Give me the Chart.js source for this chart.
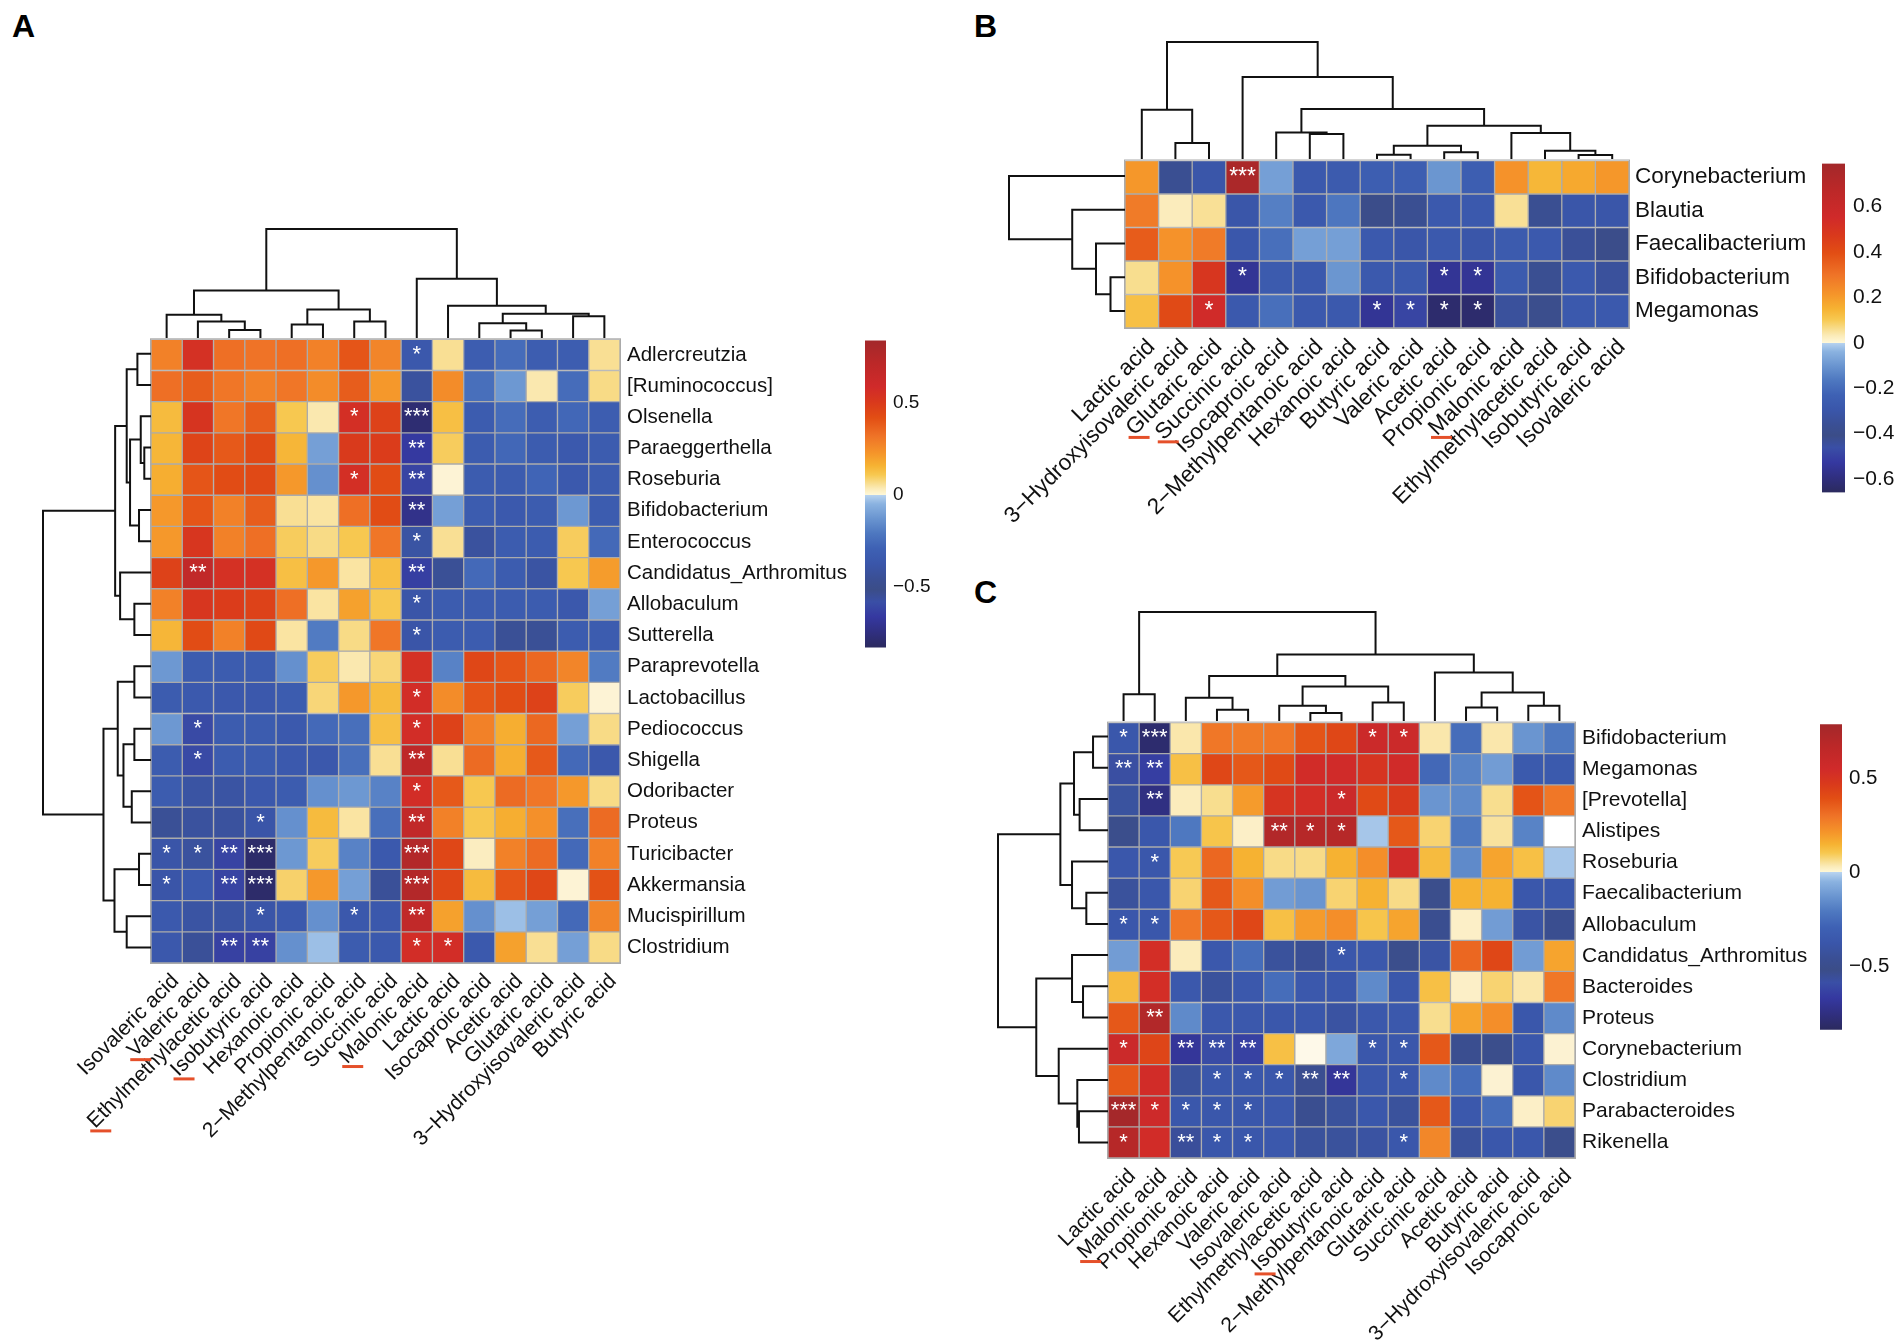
<!DOCTYPE html>
<html><head><meta charset="utf-8">
<script src="https://cdn.jsdelivr.net/npm/chart.js@4.4.1/dist/chart.umd.min.js"></script>
<style>
html,body{margin:0;padding:0;background:#fff;}
#page{position:relative;width:1902px;height:1341px;overflow:hidden;background:#fff;}
canvas{position:absolute;}
.letter{position:absolute;font:bold 32px "Liberation Sans",Arial,sans-serif;color:#000;line-height:32px;}
</style></head><body><div id="page">
<div class="letter" style="left:12px;top:10px">A</div>
<div class="letter" style="left:974px;top:10px">B</div>
<div class="letter" style="left:974px;top:576px">C</div>
</div>
<script>
// ---------------- DATA ----------------
const colsA = ['Isovaleric acid','Valeric acid','Ethylmethylacetic acid','Isobutyric acid','Hexanoic acid','Propionic acid','2\u2212Methylpentanoic acid','Succinic acid','Malonic acid','Lactic acid','Isocaproic acid','Acetic acid','Glutaric acid','3\u2212Hydroxyisovaleric acid','Butyric acid'];
const rowsA = ['Adlercreutzia','[Ruminococcus]','Olsenella','Paraeggerthella','Roseburia','Bifidobacterium','Enterococcus','Candidatus_Arthromitus','Allobaculum','Sutterella','Paraprevotella','Lactobacillus','Pediococcus','Shigella','Odoribacter','Proteus','Turicibacter','Akkermansia','Mucispirillum','Clostridium'];
const valsA = [
 [0.28,0.55,0.33,0.32,0.33,0.28,0.40,0.27,-0.36,0.06,-0.32,-0.25,-0.32,-0.32,0.06],
 [0.33,0.38,0.31,0.28,0.31,0.25,0.38,0.22,-0.42,0.25,-0.24,-0.12,0.04,-0.25,0.07],
 [0.14,0.53,0.31,0.38,0.11,0.04,0.56,0.47,-0.78,0.13,-0.33,-0.25,-0.32,-0.27,-0.32],
 [0.15,0.46,0.39,0.44,0.15,-0.10,0.50,0.49,-0.66,0.10,-0.33,-0.27,-0.33,-0.35,-0.33],
 [0.17,0.40,0.43,0.44,0.22,-0.14,0.56,0.43,-0.62,0.02,-0.33,-0.33,-0.28,-0.35,-0.33],
 [0.22,0.40,0.28,0.38,0.06,0.05,0.33,0.43,-0.72,-0.10,-0.33,-0.35,-0.33,-0.12,-0.33],
 [0.22,0.52,0.28,0.33,0.10,0.07,0.11,0.31,-0.40,0.06,-0.42,-0.33,-0.33,0.10,-0.26],
 [0.47,0.68,0.55,0.55,0.13,0.22,0.05,0.13,-0.64,-0.45,-0.26,-0.33,-0.40,0.11,0.21],
 [0.28,0.52,0.49,0.47,0.33,0.05,0.20,0.11,-0.38,-0.33,-0.33,-0.33,-0.33,-0.36,-0.10],
 [0.15,0.43,0.28,0.44,0.05,-0.20,0.07,0.31,-0.38,-0.33,-0.33,-0.45,-0.45,-0.33,-0.33],
 [-0.12,-0.33,-0.33,-0.33,-0.14,0.10,0.04,0.08,0.55,-0.18,0.45,0.40,0.35,0.27,-0.20],
 [-0.33,-0.35,-0.36,-0.36,-0.33,0.08,0.22,0.14,0.57,0.25,0.40,0.43,0.47,0.10,0.02],
 [-0.12,-0.60,-0.33,-0.33,-0.35,-0.26,-0.24,0.13,0.57,0.47,0.28,0.17,0.35,-0.10,0.07],
 [-0.33,-0.60,-0.33,-0.33,-0.35,-0.36,-0.24,0.06,0.70,0.06,0.34,0.17,0.39,-0.26,-0.36],
 [-0.33,-0.40,-0.40,-0.36,-0.33,-0.14,-0.12,-0.18,0.57,0.39,0.11,0.34,0.31,0.22,0.07],
 [-0.45,-0.42,-0.42,-0.38,-0.14,0.14,0.05,-0.24,0.68,0.28,0.11,0.17,0.24,-0.24,0.34],
 [-0.38,-0.42,-0.62,-0.80,-0.12,0.10,-0.18,-0.35,0.76,0.45,0.03,0.28,0.34,-0.26,0.28],
 [-0.38,-0.35,-0.62,-0.80,0.09,0.22,-0.10,-0.44,0.76,0.45,0.14,0.40,0.45,0.02,0.41],
 [-0.35,-0.40,-0.40,-0.38,-0.35,-0.14,-0.36,-0.36,0.68,0.20,-0.14,-0.03,-0.10,-0.26,0.27],
 [-0.36,-0.44,-0.63,-0.63,-0.14,-0.03,-0.33,-0.35,0.57,0.57,-0.35,0.20,0.06,-0.10,0.07]
];
const starsA = ['000000001000000','000000000000000','000000103000000','000000002000000','000000102000000','000000002000000','000000001000000','020000002000000','000000001000000','000000001000000','000000000000000','000000001000000','010000001000000','010000002000000','000000001000000','000100002000000','112300003000000','102300003000000','000100102000000','002200001100000'];
const markedA = ['Valeric acid','Ethylmethylacetic acid','Isobutyric acid','Malonic acid'];
const colTreeA = [[-3,-4,0.074],[-2,1,0.151],[-1,2,0.213],[-5,-6,0.123],[-7,-8,0.151],[4,5,0.262],[3,6,0.435],[-12,-13,0.068],[-11,8,0.136],[-14,-15,0.2],[9,10,0.222],[-10,11,0.296],[-9,12,0.543],[7,13,1.0]];
const rowTreeA = [[-1,-2,0.126],[-4,-5,0.062],[-3,2,0.095],[-6,-7,0.111],[3,4,0.194],[1,5,0.225],[-9,-10,0.154],[-8,7,0.286],[6,8,0.332],[-11,-12,0.154],[-13,-14,0.154],[-15,-16,0.178],[11,12,0.255],[10,13,0.308],[-17,-18,0.111],[-19,-20,0.225],[15,16,0.338],[14,17,0.44],[9,18,1.0]];
const rangeA = [-0.83, 0.84];
const legendTicksA = [-0.5, 0, 0.5];

const colsB = ['Lactic acid','3\u2212Hydroxyisovaleric acid','Glutaric acid','Succinic acid','Isocaproic acid','2\u2212Methylpentanoic acid','Hexanoic acid','Butyric acid','Valeric acid','Acetic acid','Propionic acid','Malonic acid','Ethylmethylacetic acid','Isobutyric acid','Isovaleric acid'];
const rowsB = ['Corynebacterium','Blautia','Faecalibacterium','Bifidobacterium','Megamonas'];
const valsB = [
 [0.21,-0.37,-0.30,0.75,-0.08,-0.28,-0.27,-0.25,-0.25,-0.10,-0.25,0.22,0.14,0.17,0.21],
 [0.28,0.03,0.055,-0.30,-0.15,-0.28,-0.17,-0.40,-0.37,-0.28,-0.28,0.055,-0.37,-0.30,-0.30],
 [0.36,0.22,0.28,-0.29,-0.19,-0.08,-0.08,-0.28,-0.30,-0.28,-0.30,-0.27,-0.28,-0.35,-0.40],
 [0.06,0.22,0.49,-0.55,-0.27,-0.28,-0.10,-0.28,-0.28,-0.55,-0.55,-0.27,-0.37,-0.28,-0.34],
 [0.12,0.41,0.55,-0.28,-0.19,-0.28,-0.28,-0.55,-0.49,-0.63,-0.63,-0.34,-0.39,-0.28,-0.28]
];
const starsB = ['000300000000000','000000000000000','000000000000000','000100000110000','001000011110000'];
const markedB = ['Glutaric acid','Succinic acid','Malonic acid'];
const colTreeB = [[-2,-3,0.137],[-1,1,0.422],[-6,-7,0.214],[-5,3,0.226],[-8,-9,0.037],[-10,-11,0.057],[5,6,0.114],[-14,-15,0.034],[-13,8,0.071],[-12,9,0.222],[7,10,0.285],[4,11,0.427],[-4,12,0.70],[2,13,1.0]];
const rowTreeB = [[-4,-5,0.125],[-3,1,0.25],[-2,2,0.455],[-1,3,1.0]];
const rangeB = [-0.66, 0.79];
const legendTicksB = [-0.6,-0.4,-0.2,0,0.2,0.4,0.6];

const colsC = ['Lactic acid','Malonic acid','Propionic acid','Hexanoic acid','Valeric acid','Isovaleric acid','Ethylmethylacetic acid','Isobutyric acid','2\u2212Methylpentanoic acid','Glutaric acid','Succinic acid','Acetic acid','Butyric acid','3\u2212Hydroxyisovaleric acid','Isocaproic acid'];
const rowsC = ['Bifidobacterium','Megamonas','[Prevotella]','Alistipes','Roseburia','Faecalibacterium','Allobaculum','Candidatus_Arthromitus','Bacteroides','Proteus','Corynebacterium','Clostridium','Parabacteroides','Rikenella'];
const valsC = [
 [-0.37,-0.80,0.04,0.29,0.28,0.29,0.38,0.42,0.58,0.58,0.04,-0.25,0.04,-0.13,-0.21],
 [-0.58,-0.65,0.12,0.42,0.37,0.41,0.54,0.55,0.50,0.55,-0.27,-0.18,-0.11,-0.35,-0.35],
 [-0.42,-0.75,0.03,0.06,0.20,0.50,0.53,0.58,0.41,0.47,-0.13,-0.16,0.06,0.38,0.29],
 [-0.50,-0.37,-0.21,0.11,0.025,0.72,0.70,0.70,-0.02,0.37,0.08,-0.21,0.05,-0.18,0.0],
 [-0.37,-0.37,0.10,0.33,0.15,0.065,0.065,0.15,0.23,0.55,0.13,-0.16,0.18,0.12,-0.02],
 [-0.43,-0.37,0.08,0.37,0.23,-0.11,-0.13,0.08,0.15,0.065,-0.50,0.15,0.15,-0.37,-0.37],
 [-0.37,-0.37,0.29,0.37,0.42,0.12,0.20,0.23,0.11,0.18,-0.48,0.025,-0.11,-0.40,-0.48],
 [-0.11,0.53,0.03,-0.36,-0.25,-0.43,-0.46,-0.37,-0.36,-0.50,-0.40,0.33,0.42,-0.11,0.18],
 [0.13,0.53,-0.36,-0.43,-0.36,-0.25,-0.36,-0.37,-0.16,-0.37,0.12,0.025,0.08,0.04,0.29],
 [0.37,0.72,-0.16,-0.36,-0.36,-0.37,-0.37,-0.41,-0.36,-0.36,0.06,0.18,0.23,-0.37,-0.16],
 [0.58,0.43,-0.69,-0.60,-0.64,0.12,0.01,-0.08,-0.37,-0.37,0.37,-0.48,-0.50,-0.37,0.02],
 [0.37,0.54,-0.43,-0.37,-0.37,-0.37,-0.54,-0.69,-0.37,-0.37,-0.16,-0.25,0.02,-0.37,-0.16],
 [0.78,0.57,-0.37,-0.37,-0.37,-0.36,-0.48,-0.43,-0.37,-0.43,0.37,-0.36,-0.25,0.025,0.08],
 [0.70,0.54,-0.56,-0.37,-0.37,-0.36,-0.43,-0.43,-0.41,-0.37,0.25,-0.43,-0.37,-0.37,-0.50]
];
const starsC = ['130000001100000','220000000000000','020000010000000','000002110000000','010000000000000','000000000000000','110000000000000','000000010000000','000000000000000','020000000000000','102220001100000','000111220100000','311110000000000','102110000100000'];
const markedC = ['Malonic acid','Isobutyric acid'];
const colTreeC = [[-1,-2,0.246],[-4,-5,0.103],[-3,2,0.213],[-7,-8,0.073],[-6,4,0.14],[-9,-10,0.17],[5,6,0.316],[3,7,0.413],[-12,-13,0.125],[-14,-15,0.14],[9,10,0.261],[-11,11,0.444],[8,12,0.611],[1,13,1.0]];
const rowTreeC = [[-1,-2,0.136],[-3,-4,0.258],[1,2,0.309],[-6,-7,0.197],[-5,4,0.327],[3,5,0.433],[-9,-10,0.227],[-8,7,0.327],[-13,-14,0.264],[-12,9,0.279],[-11,10,0.448],[8,11,0.652],[6,12,1.0]];
const rangeC = [-0.84, 0.79];
const legendTicksC = [-0.5, 0, 0.5];

// ---------------- STYLE ----------------
const POS = [[0,'#FFFFFF'],[0.04,'#FBEBB8'],[0.08,'#F8DC8A'],[0.13,'#F7C850'],[0.19,'#F6B232'],[0.27,'#F5952A'],[0.38,'#EF7327'],[0.5,'#E24E14'],[0.6,'#D9391C'],[0.7,'#D02A2A'],[0.85,'#BC2828'],[1,'#A3282A']];
const NEG = [[0,'#B8D3EF'],[0.06,'#8AB2E0'],[0.16,'#6893CF'],[0.25,'#4E78C0'],[0.35,'#3E61B4'],[0.45,'#3A56AA'],[0.55,'#3A4F94'],[0.62,'#3B4D88'],[0.7,'#3A4FA6'],[0.8,'#3538A0'],[0.9,'#302F80'],[1,'#2B2A5E']];
const FONT = '"Liberation Sans", Arial, Helvetica, sans-serif';
const TXT = '#111111';

Chart.defaults.animation = false;
Chart.defaults.events = [];
Chart.defaults.font.family = FONT;
Chart.defaults.color = TXT;
Chart.defaults.plugins.legend.display = false;
Chart.defaults.plugins.tooltip.enabled = false;

function hex(c){ return [1,3,5].map(i => parseInt(c.substr(i,2),16)); }
function mix(stops, t){
  t = Math.max(0, Math.min(1, t));
  for (let i = 1; i < stops.length; i++) {
    if (t <= stops[i][0]) {
      const t0 = stops[i-1][0], t1 = stops[i][0];
      const a = hex(stops[i-1][1]), b = hex(stops[i][1]);
      const f = (t - t0) / (t1 - t0);
      return 'rgb(' + a.map((v,k) => Math.round(v + (b[k]-v)*f)).join(',') + ')';
    }
  }
  return stops[stops.length-1][1];
}
function colorFor(v, lo, hi){ return v >= 0 ? mix(POS, v/hi) : mix(NEG, v/lo); }

const page = document.getElementById('page');
function addCanvas(x, y, w, h){
  const c = document.createElement('canvas');
  w = Math.round(w); h = Math.round(h);
  c.width = w; c.height = h;
  c.style.left = x + 'px'; c.style.top = y + 'px';
  c.style.width = w + 'px'; c.style.height = h + 'px';
  page.appendChild(c);
  return c;
}

const starPlugin = { id:'cellStars', afterDatasetsDraw(chart, args, o){
  const ctx = chart.ctx; ctx.save();
  ctx.fillStyle = '#fff'; ctx.font = o.font + 'px ' + FONT;
  ctx.textAlign = 'center'; ctx.textBaseline = 'middle';
  o.stars.forEach((s, r) => {
    const meta = chart.getDatasetMeta(r);
    [...s].forEach((c, j) => {
      const n = +c; if (!n) return;
      const el = meta.data[j];
      ctx.fillText('*'.repeat(n), el.x, (el.y + el.base)/2 + o.dy);
    });
  });
  ctx.restore();
}};
const framePlugin = { id:'frame', afterDatasetsDraw(chart){
  const a = chart.chartArea, ctx = chart.ctx; ctx.save();
  ctx.strokeStyle = '#ABABAB'; ctx.lineWidth = 1;
  ctx.strokeRect(a.left - 0.5, a.top - 0.5, a.right - a.left + 1, a.bottom - a.top + 1);
  ctx.restore();
}};
const markPlugin = { id:'labelMarks', afterDraw(chart, args, o){
  const xs = chart.scales.x, ctx = chart.ctx; ctx.save();
  ctx.font = o.font + 'px ' + FONT;
  ctx.strokeStyle = '#E5502A'; ctx.lineWidth = 3;
  chart.data.labels.forEach((lab, i) => {
    if (!o.marked.includes(lab)) return;
    const w = ctx.measureText(lab).width;
    const lh = o.font * 1.2;
    const ax = xs.getPixelForTick(i) + o.off - lh * Math.SQRT1_2 / 2;
    const ay = xs.top + o.pad;
    const tlx = ax - w * Math.SQRT1_2, tly = ay + w * Math.SQRT1_2;
    ctx.beginPath(); ctx.moveTo(tlx + o.dx, tly + o.dy); ctx.lineTo(tlx + o.dx + 21, tly + o.dy); ctx.stroke();
  });
  ctx.restore();
}};

function heatmap(p){
  const padL = 180, padT = 18;
  const cv = addCanvas(p.L - padL, p.T - padT, padL + (p.R - p.L) + p.labW, padT + (p.B - p.T) + p.labH);
  const off = p.xFont * 1.2 * Math.SQRT1_2 / 2;
  const [lo, hi] = p.range;
  new Chart(cv, {
    type: 'bar',
    data: { labels: p.cols, datasets: p.rows.map((r, i) => ({
      data: p.cols.map(() => [i, i + 1]),
      backgroundColor: ctx => colorFor(p.vals[i][ctx.dataIndex], lo, hi),
      borderColor: '#ABABAB', borderWidth: 1, borderSkipped: false,
      barPercentage: 1, categoryPercentage: 1 })) },
    options: {
      responsive: false, maintainAspectRatio: false,
      layout: { padding: { left: padL, top: padT, right: 0, bottom: 0 } },
      scales: {
        x: { stacked: true, offset: true, grid: { display: false, drawTicks: false }, border: { display: false },
             ticks: { autoSkip: false, minRotation: 45, maxRotation: 45, padding: p.xPad, labelOffset: off, font: { size: p.xFont }, color: TXT },
             afterFit: s => { s.height = p.labH; } },
        y: { type: 'linear', min: 0, max: p.rows.length, reverse: true, stacked: false, position: 'right',
             grid: { display: false, drawTicks: false }, border: { display: false },
             afterBuildTicks: s => { s.ticks = p.rows.map((r, i) => ({ value: i + 0.5 })); },
             ticks: { autoSkip: false, padding: p.yPad, font: { size: p.yFont }, color: TXT, callback: v => p.rows[Math.floor(v)] },
             afterFit: s => { s.width = p.labW; } }
      },
      plugins: {
        cellStars: { stars: p.stars, font: p.starFont, dy: 0 },
        labelMarks: { marked: p.marked, font: p.xFont, pad: p.xPad, off: off, dx: 8, dy: 15 }
      }
    },
    plugins: [starPlugin, framePlugin, markPlugin]
  });
}

function dendro(p){
  const m = 3;
  const pos = [], hgt = [];
  const P = k => k < 0 ? -k - 0.5 : pos[k - 1];
  const H = k => k < 0 ? 0 : hgt[k - 1];
  const segs = p.merges.map(([a, b, h], i) => {
    const s = [[P(a), H(a)], [P(a), h], [P(b), h], [P(b), H(b)]];
    pos[i] = (P(a) + P(b)) / 2; hgt[i] = h; return s;
  });
  const top = p.orient === 'top';
  const maxH = Math.max(...p.merges.map(x => x[2]));
  const datasets = segs.map(s => ({ data: s.map(([q, h]) => top ? { x: q, y: h } : { x: h, y: q }),
    showLine: true, borderColor: '#111', borderWidth: 2, pointRadius: 0, clip: false, tension: 0 }));
  let cv, scales, padding;
  if (top) {
    cv = addCanvas(p.L, p.T - m, p.R - p.L, p.B - p.T + m);
    padding = { top: m, left: 0, right: 0, bottom: 0 };
    scales = { x: { type: 'linear', display: false, min: 0, max: p.n }, y: { type: 'linear', display: false, min: 0, max: maxH } };
  } else {
    cv = addCanvas(p.L - m, p.T, p.R - p.L + m, p.B - p.T);
    padding = { top: 0, left: m, right: 0, bottom: 0 };
    scales = { x: { type: 'linear', display: false, min: 0, max: maxH, reverse: true }, y: { type: 'linear', display: false, min: 0, max: p.n, reverse: true } };
  }
  new Chart(cv, { type: 'scatter', data: { datasets }, options: { responsive: false, layout: { padding }, scales } });
}

function fmt(v){ if (Math.abs(v) < 1e-9) return '0'; const s = Math.abs(v).toFixed(1); return (v < 0 ? '\u2212' : '') + s; }

function colorbar(p){
  const pT = 16, pB = 16;
  const [lo, hi] = p.range;
  const cv = addCanvas(p.L, p.T - pT, (p.R - p.L) + p.labW, (p.B - p.T) + pT + pB);
  new Chart(cv, {
    type: 'bar',
    data: { labels: [''], datasets: [{ data: [[lo, hi]], borderWidth: 0, barPercentage: 1, categoryPercentage: 1,
      backgroundColor: ctx => {
        const c = ctx.chart; if (!c.chartArea) return '#ccc';
        const y = c.scales.y;
        const g = c.ctx.createLinearGradient(0, y.getPixelForValue(lo), 0, y.getPixelForValue(hi));
        const f = v => (v - lo) / (hi - lo);
        NEG.slice().reverse().forEach(([t, col]) => g.addColorStop(f(t * lo), col));
        POS.forEach(([t, col], i) => g.addColorStop(f(t * hi), i === 0 ? '#FFF8D8' : col));
        return g;
      } }] },
    options: { responsive: false, layout: { padding: { top: pT, bottom: pB, left: 0, right: 0 } },
      scales: { x: { display: false },
        y: { min: lo, max: hi, position: 'right', grid: { display: false, drawTicks: false }, border: { display: false },
             afterBuildTicks: s => { s.ticks = p.ticks.map(v => ({ value: v })); },
             ticks: { padding: p.pad, font: { size: p.font }, color: TXT, callback: v => fmt(v) },
             afterFit: s => { s.width = p.labW; } } } }
  });
}

// ---------------- PANEL A ----------------
heatmap({ cols: colsA, rows: rowsA, vals: valsA, stars: starsA, marked: markedA, range: rangeA,
  L: 151, T: 338, R: 620, B: 963, xFont: 21, yFont: 20.5, starFont: 22, labW: 260, labH: 210, xPad: 6, yPad: 7 });
dendro({ merges: colTreeA, n: colsA.length, orient: 'top', L: 151, R: 620, T: 229, B: 338 });
dendro({ merges: rowTreeA, n: rowsA.length, orient: 'left', L: 43, R: 151, T: 338, B: 963 });
colorbar({ range: rangeA, ticks: legendTicksA, L: 865, R: 886, T: 338, B: 650, font: 19, pad: 7, labW: 70 });

// ---------------- PANEL B ----------------
heatmap({ cols: colsB, rows: rowsB, vals: valsB, stars: starsB, marked: markedB, range: rangeB,
  L: 1125, T: 159, R: 1629, B: 328, xFont: 22.5, yFont: 22.5, starFont: 23, labW: 185, labH: 230, xPad: 6, yPad: 6 });
dendro({ merges: colTreeB, n: colsB.length, orient: 'top', L: 1125, R: 1629, T: 42, B: 159 });
dendro({ merges: rowTreeB, n: rowsB.length, orient: 'left', L: 1009, R: 1125, T: 159, B: 328 });
colorbar({ range: rangeB, ticks: legendTicksB, L: 1822, R: 1845, T: 159, B: 497, font: 21, pad: 8, labW: 57 });

// ---------------- PANEL C ----------------
heatmap({ cols: colsC, rows: rowsC, vals: valsC, stars: starsC, marked: markedC, range: rangeC,
  L: 1108, T: 721, R: 1575, B: 1158, xFont: 21, yFont: 21, starFont: 22, labW: 240, labH: 190, xPad: 6, yPad: 7 });
dendro({ merges: colTreeC, n: colsC.length, orient: 'top', L: 1108, R: 1575, T: 612, B: 721 });
dendro({ merges: rowTreeC, n: rowsC.length, orient: 'left', L: 998, R: 1108, T: 721, B: 1158 });
colorbar({ range: rangeC, ticks: legendTicksC, L: 1820, R: 1842, T: 721, B: 1033, font: 20.5, pad: 7, labW: 60 });
</script></body></html>
